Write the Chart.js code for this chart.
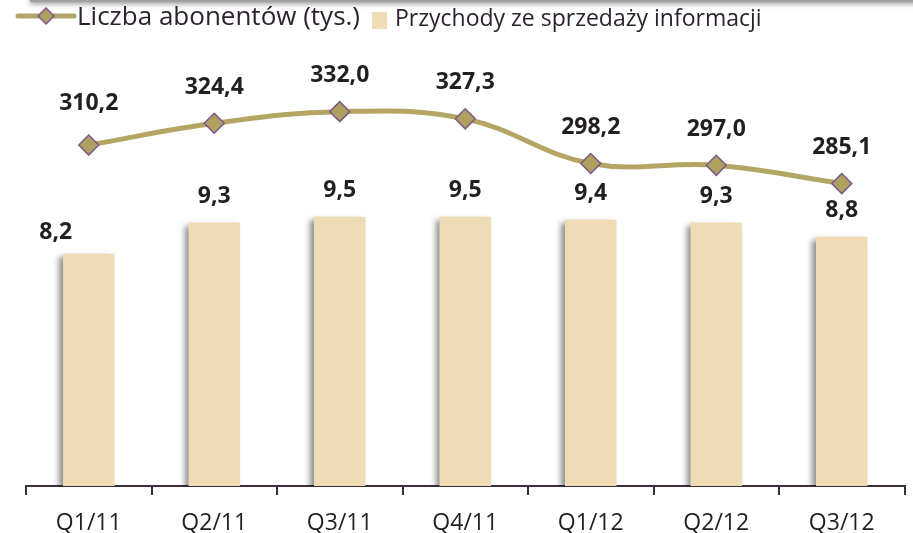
<!DOCTYPE html>
<html>
<head>
<meta charset="utf-8">
<script src="https://cdn.jsdelivr.net/npm/chart.js@4"></script>
<style>
  html, body { margin: 0; padding: 0; background: #fff; overflow: hidden; }
  #wrap { position: relative; width: 913px; height: 533px; overflow: hidden; }
  #topShade { position: absolute; left: 30px; top: -20px; width: 900px; height: 22px; background: #a0a0a0;
    box-shadow: 0 2px 5px rgba(0,0,0,0.4); }
  #legend { position: absolute; left: 0; top: 0; height: 38px; font-family: "Open Sans", Lato, sans-serif; color: #2d2330; }
  .lg { position: absolute; white-space: nowrap; line-height: 1; }
  #chart { position: absolute; left: 0; top: 0; }
</style>
</head>
<body>
<div id="wrap">
  <canvas id="chart" width="916" height="533"></canvas>
  <div id="topShade"></div>
  <div id="legend">
    <svg class="lg" style="left:15px;top:3px" width="62" height="26">
      <line x1="3" y1="13" x2="59" y2="13" stroke="#b5a565" stroke-width="5" stroke-linecap="round"/>
      <polygon points="31,5 39,13 31,21 23,13" fill="#afa060" stroke="#7b5a8a" stroke-width="1.5"/>
    </svg>
    <span class="lg" style="left:77px;top:2px;font-size:26px">Liczba abonentów (tys.)</span>
    <span class="lg" style="left:372px;top:12px;width:15px;height:17px;background:#f0dcb4"></span>
    <span class="lg" style="left:395px;top:6px;font-size:23px">Przychody ze sprzedaży informacji</span>
  </div>
</div>
<script>
document.addEventListener('DOMContentLoaded', function () {
    const quarters = ['Q1/11', 'Q2/11', 'Q3/11', 'Q4/11', 'Q1/12', 'Q2/12', 'Q3/12'];
    const subscribers = [310.2, 324.4, 332.0, 327.3, 298.2, 297.0, 285.1];
    const revenue = [8.2, 9.3, 9.5, 9.5, 9.4, 9.3, 8.8];

    const textColor = '#231f20';
    const labelFont = 'bold 23px "Open Sans", Lato, sans-serif';

    function fmt(v) {
        return v.toFixed(1).replace('.', ',');
    }

    // soft shadow on the left of the bars
    const barShadow = {
        id: 'barShadow',
        beforeDatasetDraw(chart, args) {
            if (args.index !== 1) return;
            const ctx = chart.ctx;
            ctx.save();
            ctx.shadowColor = 'rgba(0,0,0,0.45)';
            ctx.shadowBlur = 6;
            ctx.shadowOffsetX = -4;
            ctx.shadowOffsetY = 3;
        },
        afterDatasetDraw(chart, args) {
            if (args.index !== 1) return;
            chart.ctx.restore();
        }
    };

    // value labels over points and bars
    const valueLabels = {
        id: 'valueLabels',
        afterDatasetsDraw(chart) {
            const ctx = chart.ctx;
            ctx.save();
            ctx.font = labelFont;
            ctx.fillStyle = textColor;
            ctx.textAlign = 'center';
            ctx.textBaseline = 'middle';

            chart.getDatasetMeta(0).data.forEach(function (pt, i) {
                const dy = i === 0 ? 42 : 36;
                ctx.fillText(fmt(subscribers[i]), pt.x, pt.y - dy);
            });
            chart.getDatasetMeta(1).data.forEach(function (bar, i) {
                if (i === 0) {
                    // first label sits left of the bar, under the line label
                    ctx.fillText(fmt(revenue[i]), bar.x - 33, bar.y - 21);
                } else {
                    ctx.fillText(fmt(revenue[i]), bar.x, bar.y - 26);
                }
            });
            ctx.restore();
        }
    };

    new Chart(document.getElementById('chart'), {
        data: {
            labels: quarters,
            datasets: [
                {
                    type: 'line',
                    label: 'Liczba abonentów (tys.)',
                    data: subscribers,
                    yAxisID: 'ySub',
                    borderColor: '#b5a565',
                    borderWidth: 5,
                    tension: 0.4,
                    pointStyle: 'rectRot',
                    pointRadius: 10,
                    pointBackgroundColor: '#afa060',
                    pointBorderColor: '#7b5a8a',
                    pointBorderWidth: 1.5,
                    order: 0
                },
                {
                    type: 'bar',
                    label: 'Przychody ze sprzedaży informacji',
                    data: revenue,
                    yAxisID: 'yRev',
                    backgroundColor: '#f0dcb4',
                    barPercentage: 0.41,
                    categoryPercentage: 1,
                    order: 1
                }
            ]
        },
        options: {
            responsive: false,
            animation: false,
            layout: { padding: { left: 26, right: 1, top: 61, bottom: 0 } },
            plugins: {
                legend: { display: false },
                tooltip: { enabled: false }
            },
            scales: {
                x: {
                    offset: true,
                    afterFit: function (scale) { scale.height = 47; },
                    border: { display: true, color: '#3a2f3a', width: 2 },
                    grid: { offset: true, drawOnChartArea: false, drawTicks: true, tickLength: 9, color: '#3a2f3a', lineWidth: 2 },
                    ticks: { color: textColor, font: { family: '"Open Sans", Lato, sans-serif', size: 23, lineHeight: 1 }, padding: 17, maxRotation: 0 }
                },
                yRev: { display: false, min: 0, max: 15 },
                ySub: { display: false, min: 88, max: 365 }
            }
        },
        plugins: [barShadow, valueLabels]
    });
});
</script>
</body>
</html>
